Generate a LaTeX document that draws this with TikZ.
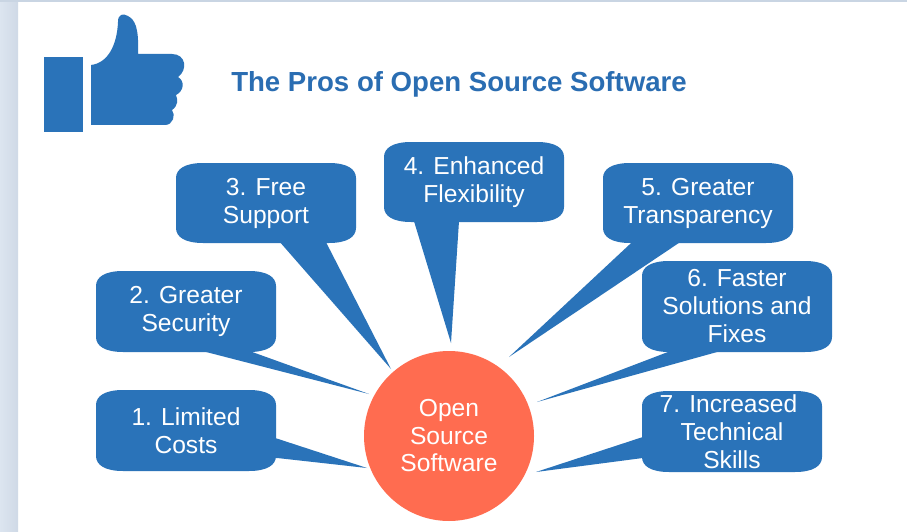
\documentclass[tikz,border=0pt]{standalone}
\usepackage{fontspec}
\setmainfont{Liberation Sans}
\usetikzlibrary{calc}
\definecolor{bluefill}{HTML}{2A73B9}
\definecolor{orangefill}{HTML}{FF6C50}
\definecolor{stripL}{HTML}{DCE5F0}
\definecolor{stripR}{HTML}{CFD9E6}
\definecolor{stripT}{HTML}{C9D5E3}
\definecolor{titleblue}{HTML}{2A6DB2}
\tikzset{
  bubbletext/.style={text=white,font=\fontsize{24.6pt}{28pt}\selectfont,align=center,inner sep=0pt},
  tailfill/.style={fill=bluefill},
}
% box: name, x0, y0, x1, y1, text
\newcommand{\bubble}[6]{%
  \fill[bluefill] (#2+27,#3) -- (#4-27,#3) .. controls (#4-9,#3) and (#4,#3+6) .. (#4,#3+15)
   -- (#4,#5-15) .. controls (#4,#5-6) and (#4-9,#5) .. (#4-27,#5)
   -- (#2+27,#5) .. controls (#2+9,#5) and (#2,#5-6) .. (#2,#5-15)
   -- (#2,#3+15) .. controls (#2,#3+6) and (#2+9,#3) .. (#2+27,#3) -- cycle;
  \node[bubbletext,minimum width=#4pt-#2pt,minimum height=#5pt-#3pt] (#1) at ({(#2+#4)/2},{(#3+#5)/2}) {#6};%
}
\begin{document}
\begin{tikzpicture}[x=1pt,y=-1pt]
\useasboundingbox (0,0) rectangle (907,532);
\fill[white] (0,0) rectangle (907,532);
\shade[left color=stripL,right color=stripR] (0,0) rectangle (18,532);
\fill[stripT] (0,0) rectangle (907,2);
% thumb
\fill[bluefill] (44,57) rectangle (83,132);
\fill[bluefill] (91,65) .. controls (108,63) and (117,45) .. (118,22)
  .. controls (118,14) and (123,13) .. (128,16)
  .. controls (135,20) and (139,27) .. (138,54)
  -- (172,54) .. controls (186,54) and (188,70) .. (178,77)
  .. controls (185,81) and (184,91) .. (176,95)
  .. controls (178,100) and (178,106) .. (172,110)
  .. controls (176,115) and (173,125) .. (165,125)
  -- (91,125) -- cycle;
\node[text=titleblue,font=\bfseries\fontsize{27.6pt}{32pt}\selectfont,inner sep=0pt] (title) at (459,84) {The Pros of Open Source Software};
% centre
\node[circle,fill=orangefill,minimum size=170pt,inner sep=0pt,text=white,align=center,font=\fontsize{24.6pt}{27.5pt}\selectfont] (hub) at (449,436) {Open\\Source\\Software};
% tips
\coordinate (t1) at (367,468);
\coordinate (t2) at (369,394);
\coordinate (t3) at (391,369);
\coordinate (t4) at (451,343);
\coordinate (t5) at (509,357);
\coordinate (t6) at (537,402);
\coordinate (t7) at (536,472);
% bubbles
\bubble{b1}{96}{390}{276}{471}{1. Limited\\Costs}
\bubble{b2}{96}{271}{276}{352}{2. Greater\\Security}
\bubble{b3}{176}{163}{356}{243}{3. Free\\Support}
\bubble{b4}{384}{142}{564}{222}{4. Enhanced\\Flexibility}
\bubble{b5}{603}{163}{793}{243}{5. Greater\\Transparency}
\bubble{b6}{642}{261}{832}{352}{6. Faster\\Solutions and\\Fixes}
\bubble{b7}{642}{391}{822}{472}{7. Increased\hspace*{7pt}\\Technical\\Skills}
% tails
\fill[tailfill] ($(b1.east)+(-1,7.5)$) -- (t1) -- ($(b1.east)+(1,27.5)$) -- ($(b1.east)+(-3,27.5)$) -- cycle;
\fill[tailfill] ($(b2.south)+(17,-1)$) -- (t2) -- ($(b2.south)+(64,-1)$) -- cycle;
\fill[tailfill] ($(b3.south)+(14,-1)$) -- (t3) -- ($(b3.south)+(60,-1)$) -- cycle;
\fill[tailfill] ($(b4.south)+(-60,-1)$) -- (t4) -- ($(b4.south)+(-15,-1)$) -- cycle;
\fill[tailfill] ($(b5.south)+(-66,-1)$) -- (t5) -- ($(b5.south)+(-18,-1)$) -- cycle;
\fill[tailfill] ($(b6.south)+(-67,-1)$) -- (t6) -- ($(b6.south)+(-17,-1)$) -- cycle;
\fill[tailfill] ($(b7.west)+(1,5.5)$) -- (t7) -- ($(b7.west)+(1,26.5)$) -- cycle;
\end{tikzpicture}
\end{document}
